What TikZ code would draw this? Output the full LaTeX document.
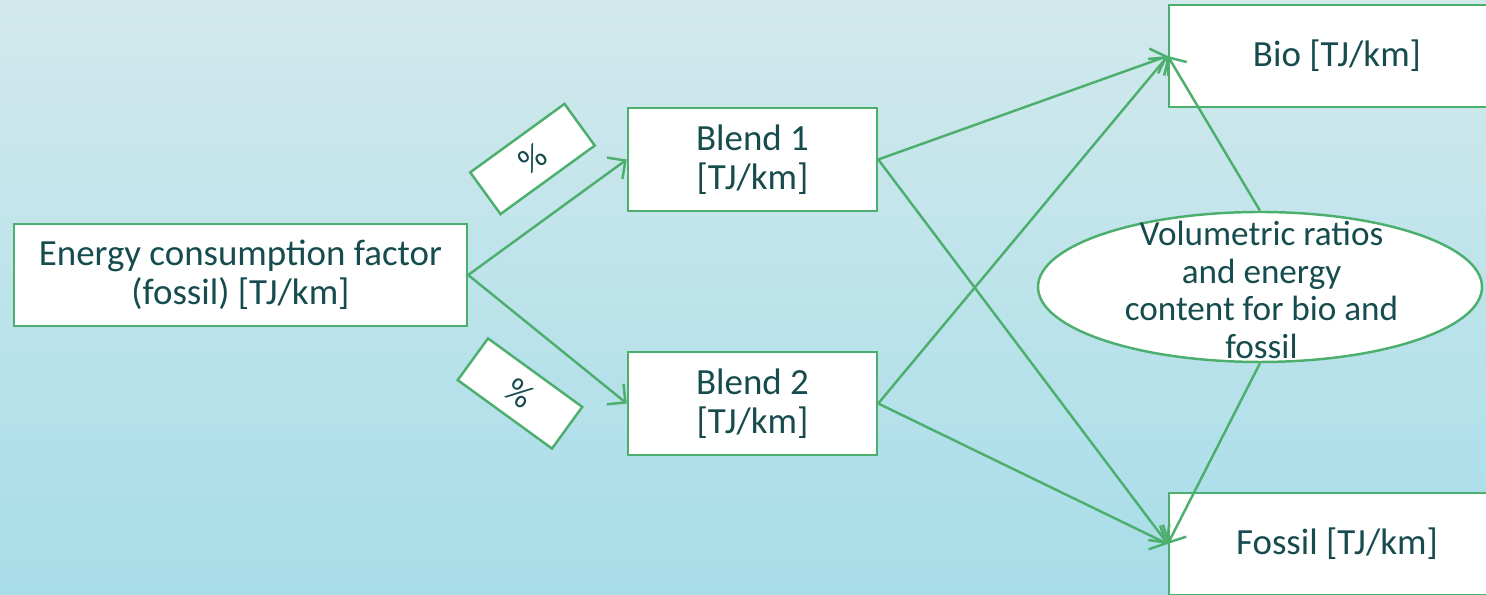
\documentclass[tikz,border=0pt]{standalone}
\usepackage{xcolor}
\usepackage{fontspec}
\usepackage{tikz}
\usetikzlibrary{arrows.meta,shapes.geometric}
\setmainfont{Carlito}

\definecolor{lineg}{HTML}{4CAF6E}
\definecolor{txtd}{HTML}{164C4E}
\definecolor{bgtop}{HTML}{D2E9EC}
\definecolor{bgbot}{HTML}{A7DDE9}

\tikzset{
    box/.style={draw=lineg,line width=1.4pt,fill=white,text=txtd,align=center,inner sep=0pt,font=\fontsize{21}{22}\selectfont},
    pctbox/.style={draw=lineg,line width=1.4pt,fill=white,text=txtd,minimum width=2.33cm,minimum height=1.03cm,inner sep=0pt,font=\fontsize{20}{22}\selectfont},
    flow/.style={draw=lineg,line width=1.4pt,-{Straight Barb[length=7.5pt,width=15pt]}}
}

\begin{document}
\begin{tikzpicture}
        \useasboundingbox (0,0) rectangle (29.72,11.90);
        \shade[top color=bgtop,bottom color=bgbot] (0,0) rectangle (29.72,11.90);
        \clip (0,0) rectangle (29.72,11.90);

        \node[box,minimum width=9.06cm,minimum height=2.04cm] (ecf) at (4.81,6.40) {Energy consumption factor\\(fossil) {[TJ/km]}};
        \node[box,minimum width=4.98cm,minimum height=2.06cm] (b1) at (15.05,8.71) {Blend 1\\{[TJ/km]}};
        \node[box,minimum width=4.98cm,minimum height=2.06cm] (b2) at (15.05,3.83) {Blend 2\\{[TJ/km]}};
        \node[box,minimum width=6.72cm,minimum height=2.04cm] (bio) at (26.74,10.78) {Bio [TJ/km]};
        \node[box,minimum width=6.72cm,minimum height=2.04cm] (fos) at (26.74,1.02) {Fossil [TJ/km]};
        \node[box,ellipse,minimum width=8.88cm,minimum height=3.0cm] (vr) at (25.2,6.16) {};
        \node[text=txtd,align=center,inner sep=0pt,font=\fontsize{20}{21.3}\selectfont] (vrtxt) at (25.23,6.10) {Volumetric ratios\\and energy\\content for bio and\\fossil};

        \node[pctbox,rotate=36] (p1) at (10.65,8.72) {\%};
        \node[pctbox,rotate=-36] (p2) at (10.40,4.03) {\%};

        \draw[flow] (ecf.east) -- (b1.west);
        \draw[flow] (ecf.east) -- (b2.west);

        \draw[flow] (b1.east) -- (bio.west);
        \draw[flow] (b1.east) -- (fos.west);
        \draw[flow] (b2.east) -- (bio.west);
        \draw[flow] (b2.east) -- (fos.west);

        \draw[flow] (vr.north) -- (bio.west);
        \draw[flow] (vr.south) -- (fos.west);
    \end{tikzpicture}
\end{document}
